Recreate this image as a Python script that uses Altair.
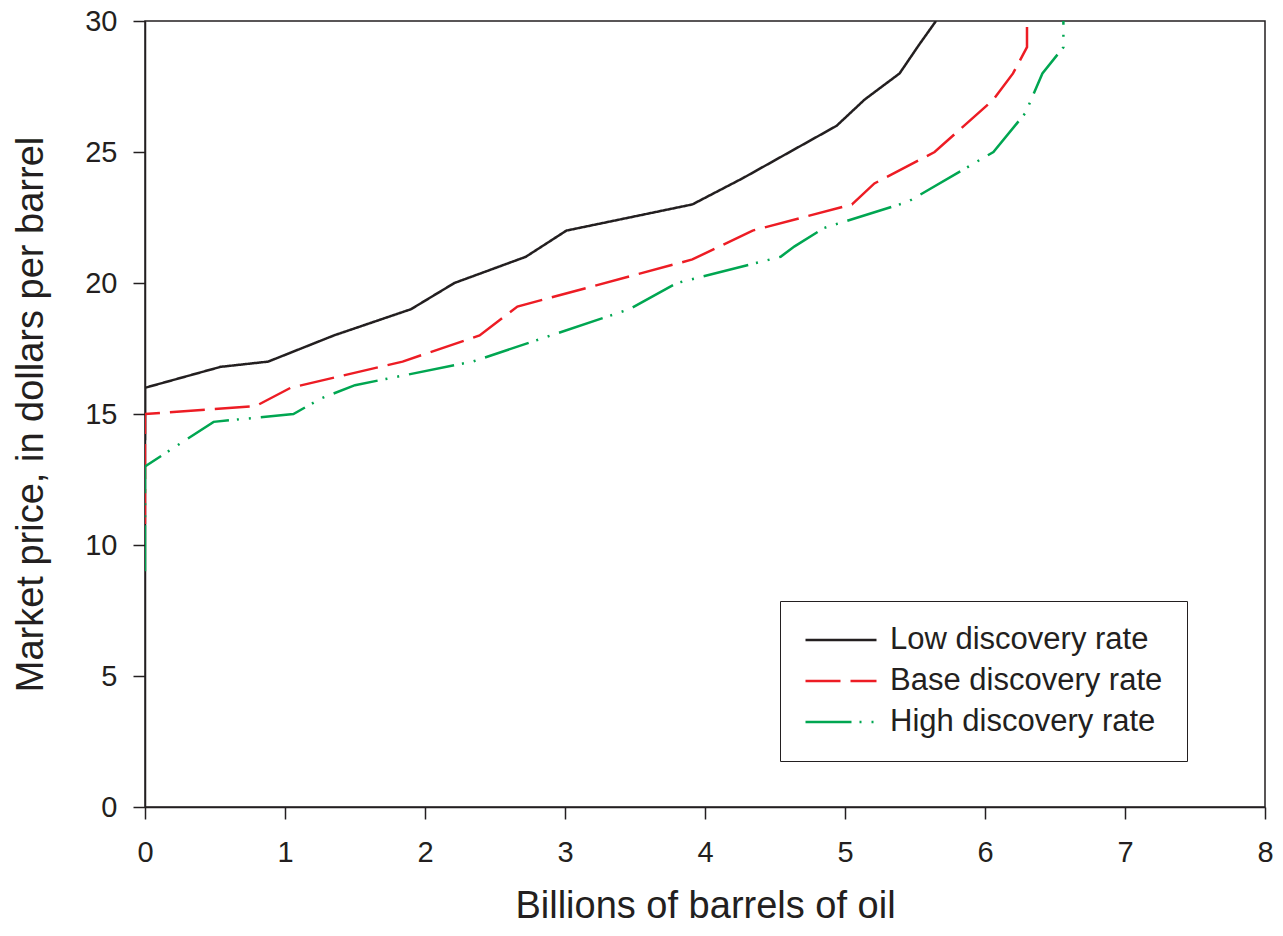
import altair as alt
import pandas as pd

# Values
series_names = ["Low discovery rate", "Base discovery rate", "High discovery rate"]

low_x = [0, 0, 0.54, 0.88, 1.35, 1.9, 2.21, 2.72, 3.01, 3.91, 4.27, 4.94, 5.14, 5.39, 5.53, 5.65]
low_y = [14.0, 16.0, 16.8, 17.0, 18.0, 19.0, 20.0, 21.0, 22.0, 23.0, 24.0, 26.0, 27.0, 28.0, 29.1, 30.0]

base_x = [0, 0, 0.79, 1.04, 1.84, 2.39, 2.66, 3.91, 4.34, 5.05, 5.21, 5.64, 6.06, 6.2, 6.3, 6.3]
base_y = [10.8, 15.0, 15.3, 16.0, 17.0, 18.0, 19.1, 20.9, 22.0, 23.0, 23.8, 25.0, 27.0, 28.0, 29.0, 30.0]

high_x = [0, 0, 0.49, 1.06, 1.26, 1.5, 2.34, 3.46, 3.8, 4.54, 4.64, 4.85, 5.45, 6.06, 6.29, 6.41, 6.56, 6.56]
high_y = [9.0, 13.0, 14.7, 15.0, 15.6, 16.1, 17.0, 19.0, 20.0, 21.0, 21.4, 22.1, 23.1, 25.0, 26.5, 28.0, 29.0, 30.0]

x_ticks = [0, 1, 2, 3, 4, 5, 6, 7, 8]
y_ticks = [0, 5, 10, 15, 20, 25, 30]

colors = ["#231f20", "#ed1c24", "#00a651"]
dashes = [[1, 0], [35, 10], [46, 8, 2, 10, 2, 10]]

rows = []
for name, xs, ys in zip(series_names, [low_x, base_x, high_x], [low_y, base_y, high_y]):
    for i, (xv, yv) in enumerate(zip(xs, ys)):
        rows.append({"series": name, "order": i, "barrels": xv, "price": yv})
df = pd.DataFrame(rows)

FONT = "Liberation Sans"
INK = "#231f20"

legend = alt.Legend(
    title=None,
    orient="none",
    legendX=635,
    legendY=580,
    strokeColor=INK,
    padding=24,
    symbolType="stroke",
    symbolSize=5041,
    symbolStrokeWidth=2.5,
    clipHeight=30,
    rowPadding=10,
    labelOffset=12,
    labelFontSize=31,
    labelLimit=600,
    labelFont=FONT,
    labelColor=INK,
)

chart = (
    alt.Chart(df)
    .mark_line(strokeWidth=2.5, strokeCap="butt", clip=True)
    .encode(
        x=alt.X(
            "barrels:Q",
            scale=alt.Scale(domain=[0, 8], nice=False),
            axis=alt.Axis(title="Billions of barrels of oil", values=x_ticks, format="d"),
        ),
        y=alt.Y(
            "price:Q",
            scale=alt.Scale(domain=[0, 30], nice=False),
            axis=alt.Axis(title="Market price, in dollars per barrel", values=y_ticks, format="d"),
        ),
        color=alt.Color("series:N", scale=alt.Scale(domain=series_names, range=colors), legend=legend),
        strokeDash=alt.StrokeDash("series:N", scale=alt.Scale(domain=series_names, range=dashes), legend=legend),
        order="order:Q",
    )
    .properties(
        width=1120,
        height=786,
        autosize=alt.AutoSizeParams(type="none"),
        padding={"left": 137, "top": 13, "right": 10, "bottom": 120},
    )
    .configure_view(stroke=INK, strokeWidth=1.5)
    .configure_axis(
        grid=False,
        labelFlush=False,
        domainColor=INK,
        domainWidth=1.5,
        tickColor=INK,
        tickWidth=1.5,
        tickSize=12,
        labelFont=FONT,
        labelFontSize=29,
        labelColor=INK,
        titleFont=FONT,
        titleFontSize=38,
        titleFontWeight="normal",
        titleColor=INK,
    )
    .configure_axisX(labelPadding=19, titlePadding=20)
    .configure_axisY(labelPadding=16, titlePadding=34)
)

chart.save("out.html", embed_options={"renderer": "svg", "actions": False})
